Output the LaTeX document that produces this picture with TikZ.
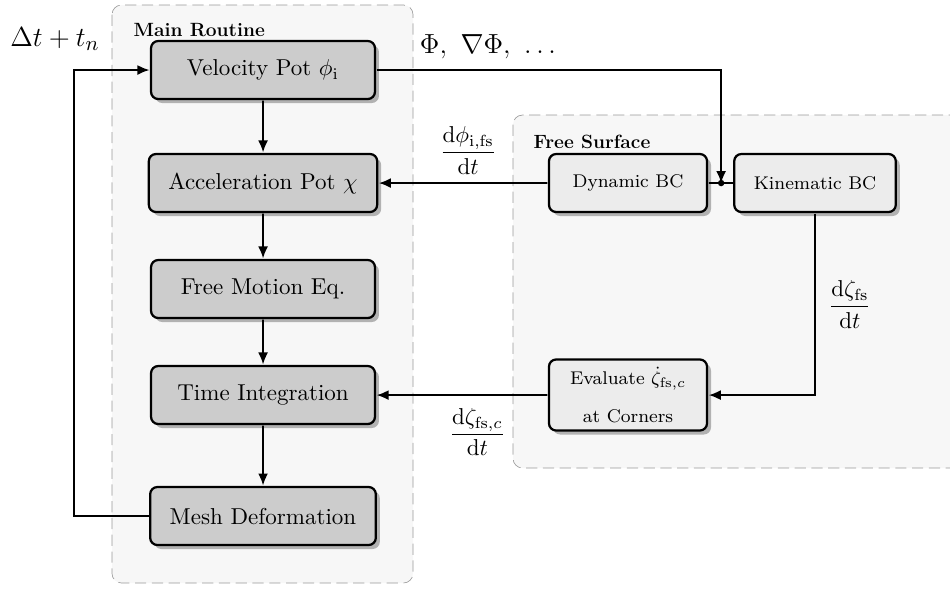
\documentclass[tikz,border=0pt]{standalone}
\usepackage{amsmath}
\usetikzlibrary{shapes.geometric, arrows.meta, shadows}

\definecolor{boxgray}{HTML}{CCCCCC}
\definecolor{fsgray}{HTML}{ECECEC}
\definecolor{bggray}{HTML}{F7F7F7}

\tikzset{
  mainbox/.style={draw, line width=1.4pt, rounded corners=4.5pt, fill=boxgray,
    minimum width=3.42cm, minimum height=0.886cm, inner xsep=8.5pt,
    drop shadow={shadow xshift=2.5pt, shadow yshift=-2.5pt, fill=black!30, opacity=1}},
  fsbox/.style={mainbox, fill=fsgray, minimum width=2.414cm, font=\footnotesize},
  group/.style={draw=black!40, dash pattern=on 7pt off 3.5pt, rounded corners=6pt, fill=bggray},
  title/.style={anchor=west, scale=0.6944, font=\large\bfseries},
  flow/.style={-{Latex[length=7.5pt, width=6.2pt]}, line width=1.1pt}
}

\begin{document}
\begin{tikzpicture}[x=0.015278cm, y=-0.015278cm, scale=1.44, transform shape]

\useasboundingbox (0,0) rectangle (950,590);

%draw the two dashed groups
\draw[group] (112,5) rectangle (413,583);
\node[title] (maintitle) at (128,30) {Main Routine};
\draw[group] (513,115) rectangle (965,468);
\node[title] (fstitle) at (528,142) {Free Surface};

%main routine
\node[mainbox] (velpot) at (263,70) {Velocity Pot $\phi_\mathrm{i}$};
\node[mainbox] (accpot) at (263,183) {Acceleration Pot $\chi$};
\node[mainbox] (motion) at (263,289) {Free Motion Eq.};
\node[mainbox] (timeint) at (263,395) {Time Integration};
\node[mainbox] (mesh) at (263,516) {Mesh Deformation};

%free surface
\node[fsbox] (dynbc) at (628,183) {Dynamic BC};
\node[fsbox] (kinbc) at (815,183) {Kinematic BC};
\node[fsbox, align=center, minimum height=1.085cm] (corners) at (628,395) {Evaluate $\dot\zeta_{\mathrm{fs},c}$\\[7pt] at Corners};

\coordinate (loop) at (74,0);
\coordinate (junction) at (721,183);

\draw[flow] (velpot) -- (accpot);
\draw[flow] (accpot) -- (motion);
\draw[flow] (motion) -- (timeint);
\draw[flow] (timeint) -- (mesh);
\draw[flow] (mesh.west) -- (mesh.west -| loop) -- (velpot.west -| loop) -- (velpot.west);

\draw[line width=1.1pt] (dynbc) -- (kinbc);
\draw[flow] (velpot.east) -| (junction);
\fill (junction) circle (1.4pt);

\draw[flow] (dynbc) -- (accpot) node[pos=0.47, above=0pt] {$\dfrac{\mathrm{d}\phi_\mathrm{i,fs}}{\mathrm{d}t}$};
\draw[flow] (kinbc.south) |- (corners.east) node[pos=0.25, right=2pt] {$\dfrac{\mathrm{d}\zeta_\mathrm{fs}}{\mathrm{d}t}$};
\draw[flow] (corners) -- (timeint) node[pos=0.41, below=2pt] {$\dfrac{\mathrm{d}\zeta_{\mathrm{fs},c}}{\mathrm{d}t}$};

\node[anchor=base, font=\fontsize{12.8}{15}\selectfont] (tstep) at (55,46) {$\Delta t + t_n$};
\node[anchor=base, font=\large] (phivals) at (488,53) {$\Phi,\ \nabla\Phi,\ \ldots$};

\end{tikzpicture}
\end{document}
